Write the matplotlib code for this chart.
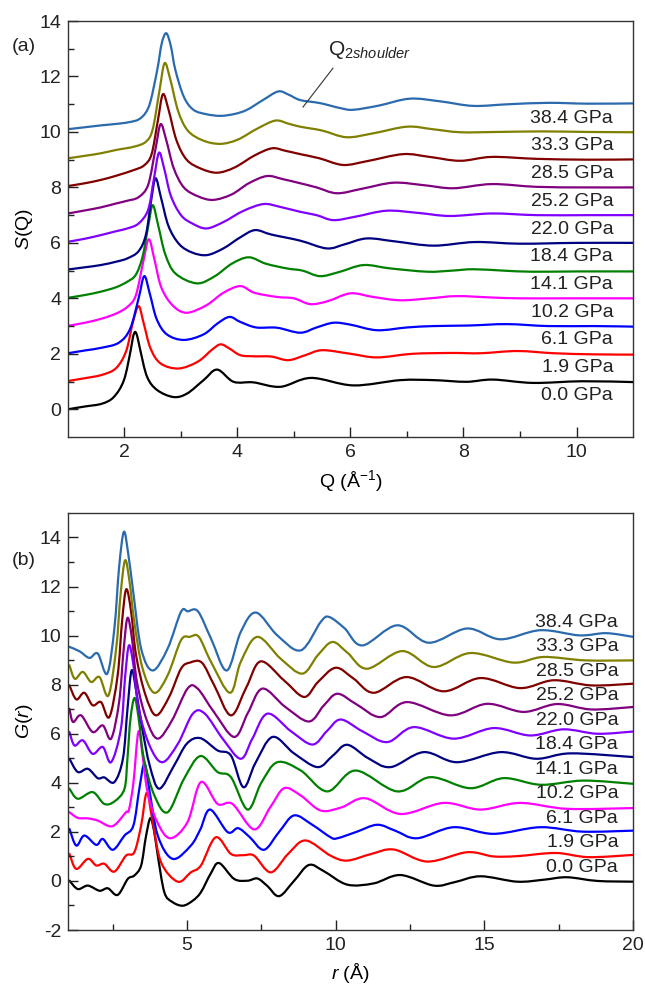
import matplotlib
matplotlib.use("Agg")
import matplotlib.pyplot as plt
from matplotlib.path import Path
from matplotlib.patches import PathPatch

plt.rcParams["font.family"] = ["Liberation Sans", "DejaVu Sans"]
plt.rcParams["mathtext.fontset"] = "custom"
plt.rcParams["mathtext.rm"] = "Liberation Sans"
plt.rcParams["mathtext.it"] = "Liberation Sans:italic"
plt.rcParams["axes.unicode_minus"] = False

pressures = ["0.0 GPa", "1.9 GPa", "6.1 GPa", "10.2 GPa", "14.1 GPa", "18.4 GPa",
             "22.0 GPa", "25.2 GPa", "28.5 GPa", "33.3 GPa", "38.4 GPa"]
colors = ["#000000", "#ff0000", "#0000ff", "#ff00ff", "#008000", "#000080",
          "#8000ff", "#800080", "#800000", "#808000", "#2a6aad"]

# ---- (a) S(Q), each curve shifted up by its index ----
q_00 = [1.0, 1.3, 1.6, 1.81, 1.99, 2.11, 2.15, 2.19, 2.23, 2.28, 2.40, 2.58, 2.87, 3.11, 3.40, 3.64,
        3.93, 4.28, 4.76, 5.3, 6.05, 6.88, 7.47, 8.05, 8.52, 9.23, 10.1, 11.0]
s_00 = [0.0, 0.1, 0.2, 0.44, 1.05, 2.13, 2.6, 2.79, 2.6, 2.13, 1.17, 0.69, 0.44, 0.57, 1.05, 1.43,
        0.99, 0.97, 0.81, 1.13, 0.86, 1.05, 1.05, 0.99, 1.07, 0.95, 1.01, 0.98]
q_19 = [1.0, 1.3, 1.6, 1.85, 2.03, 2.15, 2.25, 2.34, 2.46, 2.64, 2.96, 3.3, 3.55, 3.70, 3.85, 4.05,
        4.3, 4.6, 4.9, 5.2, 5.5, 6.0, 6.47, 7.1, 7.8, 8.3, 8.95, 9.6, 10.3, 11.0]
s_19 = [0.02, 0.12, 0.24, 0.48, 1.1, 2.15, 2.72, 2.1, 1.2, 0.65, 0.47, 0.72, 1.15, 1.34, 1.2, 0.95,
        0.91, 0.9, 0.77, 0.95, 1.13, 1.0, 0.87, 1.0, 1.03, 1.02, 1.1, 1.02, 0.98, 0.97]
q_61 = [1.0, 1.3, 1.6, 1.9, 2.1, 2.25, 2.35, 2.45, 2.57, 2.75, 3.05, 3.4, 3.65, 3.86, 4.05, 4.33,
        4.7, 5.11, 5.4, 5.70, 6.0, 6.47, 7.0, 7.47, 8.1, 8.77, 9.5, 10.3, 11.0]
s_61 = [0.02, 0.12, 0.22, 0.4, 0.9, 2.0, 2.80, 2.15, 1.25, 0.7, 0.5, 0.7, 1.1, 1.33, 1.15, 0.95,
        0.94, 0.76, 0.95, 1.12, 1.05, 0.85, 0.95, 1.0, 1.02, 1.07, 1.0, 1.0, 0.98]
q_102 = [1.0, 1.3, 1.6, 1.85, 2.05, 2.2, 2.33, 2.43, 2.53, 2.65, 2.85, 3.1, 3.45, 3.75, 4.05, 4.3,
         4.7, 5.0, 5.29, 5.6, 6.0, 6.4, 6.88, 7.4, 7.88, 8.5, 9.0, 9.8, 11.0]
s_102 = [0.01, 0.12, 0.27, 0.45, 0.69, 1.1, 2.3, 3.13, 2.4, 1.4, 0.75, 0.48, 0.75, 1.2, 1.44, 1.2,
         1.05, 1.0, 0.79, 0.9, 1.18, 1.05, 0.93, 1.0, 1.08, 1.03, 1.0, 1.0, 1.0]
q_141 = [1.0, 1.3, 1.58, 1.85, 2.05, 2.2, 2.32, 2.42, 2.50, 2.6, 2.72, 2.9, 3.28, 3.6, 3.9, 4.2,
         4.5, 4.87, 5.15, 5.46, 5.8, 6.23, 6.7, 7.36, 7.8, 8.17, 8.7, 9.2, 10.0, 11.0]
s_141 = [0.02, 0.12, 0.24, 0.4, 0.6, 0.85, 1.5, 2.6, 3.36, 2.6, 1.6, 0.9, 0.54, 0.8, 1.25, 1.48,
         1.25, 1.08, 1.0, 0.8, 0.95, 1.2, 1.08, 0.96, 1.0, 1.05, 1.0, 0.96, 0.97, 0.97]
q_184 = [1.0, 1.3, 1.58, 1.85, 2.05, 2.25, 2.38, 2.47, 2.55, 2.65, 2.78, 2.97, 3.2, 3.46, 3.75, 4.05,
         4.31, 4.6, 5.11, 5.58, 5.9, 6.29, 6.8, 7.47, 8.2, 9.0, 10.0, 11.0]
s_184 = [0.04, 0.12, 0.2, 0.32, 0.44, 0.7, 1.3, 2.5, 3.33, 2.6, 1.6, 0.95, 0.65, 0.56, 0.8, 1.2,
         1.46, 1.3, 1.08, 0.8, 0.95, 1.16, 1.05, 0.9, 1.03, 0.97, 1.0, 1.0]
q_220 = [1.0, 1.3, 1.58, 1.85, 2.05, 2.25, 2.42, 2.52, 2.61, 2.7, 2.82, 3.0, 3.2, 3.45, 3.75, 4.1,
         4.46, 4.75, 5.11, 5.4, 5.70, 6.1, 6.64, 7.2, 7.76, 8.5, 9.3, 10.2, 11.0]
s_220 = [0.04, 0.15, 0.28, 0.42, 0.52, 0.7, 1.2, 2.3, 3.25, 2.7, 1.7, 1.0, 0.7, 0.52, 0.75, 1.15,
         1.40, 1.3, 1.12, 1.0, 0.82, 0.95, 1.16, 1.08, 0.97, 1.06, 1.0, 1.0, 1.0]
q_252 = [1.0, 1.3, 1.58, 1.85, 2.05, 2.25, 2.42, 2.55, 2.64, 2.74, 2.87, 3.05, 3.3, 3.57, 3.9, 4.2,
         4.52, 4.8, 5.11, 5.4, 5.76, 6.2, 6.76, 7.3, 7.82, 8.5, 9.3, 10.2, 11.0]
s_252 = [0.06, 0.17, 0.28, 0.42, 0.52, 0.65, 1.1, 2.4, 3.28, 2.7, 1.7, 1.0, 0.68, 0.55, 0.75, 1.15,
         1.41, 1.3, 1.15, 1.0, 0.79, 0.95, 1.17, 1.08, 0.97, 1.12, 1.02, 1.0, 1.0]
q_285 = [1.0, 1.3, 1.58, 1.85, 2.17, 2.35, 2.48, 2.59, 2.68, 2.78, 2.92, 3.1, 3.35, 3.64, 3.95, 4.3,
         4.61, 4.85, 5.11, 5.45, 5.87, 6.3, 6.93, 7.4, 7.94, 8.5, 9.3, 10.2, 11.0]
s_285 = [0.05, 0.15, 0.27, 0.42, 0.63, 0.8, 1.2, 2.4, 3.36, 2.8, 1.7, 1.0, 0.68, 0.53, 0.72, 1.15,
         1.41, 1.32, 1.2, 1.05, 0.81, 0.95, 1.2, 1.1, 0.96, 1.1, 1.03, 1.0, 1.01]
q_333 = [1.0, 1.3, 1.58, 1.85, 2.17, 2.38, 2.5, 2.62, 2.71, 2.81, 2.95, 3.12, 3.38, 3.69, 4.0, 4.35,
         4.67, 4.9, 5.11, 5.5, 5.93, 6.4, 7.0, 7.45, 7.94, 8.6, 9.4, 10.2, 11.0]
s_333 = [0.05, 0.14, 0.23, 0.35, 0.47, 0.65, 1.1, 2.5, 3.48, 2.9, 1.75, 1.05, 0.7, 0.57, 0.72, 1.12,
         1.41, 1.3, 1.19, 1.05, 0.81, 0.95, 1.19, 1.1, 0.99, 1.0, 1.02, 1.0, 0.99]
q_384 = [1.0, 1.3, 1.6, 1.9, 2.1, 2.25, 2.37, 2.46, 2.58, 2.66, 2.74, 2.82, 2.90, 3.05, 3.22, 3.45, 3.70,
         3.95, 4.17, 4.45, 4.72, 4.9, 5.11, 5.46, 5.82, 6.05, 6.5, 7.05, 7.6, 8.17, 8.8, 9.5, 10.2, 11.0]
s_384 = [0.1, 0.17, 0.24, 0.3, 0.36, 0.45, 0.68, 1.1, 2.24, 3.2, 3.56, 3.1, 2.24, 1.27, 0.8, 0.64, 0.58,
         0.65, 0.8, 1.15, 1.46, 1.35, 1.15, 1.04, 0.86, 0.8, 0.95, 1.2, 1.1, 0.94, 1.0, 1.05, 1.02, 1.03]

sq_q = [q_00, q_19, q_61, q_102, q_141, q_184, q_220, q_252, q_285, q_333, q_384]
sq_s = [s_00, s_19, s_61, s_102, s_141, s_184, s_220, s_252, s_285, s_333, s_384]

# ---- (b) G(r), each curve shifted up by its index ----
r_00 = [1.05, 1.33, 1.67, 2.06, 2.34, 2.67, 3.01, 3.23, 3.46, 3.62, 3.77, 3.9, 4.02, 4.24, 4.5, 4.86,
        5.2, 5.47, 5.8, 6.08, 6.59, 7.04, 7.37, 7.7, 8.10, 8.6, 9.1, 9.6, 10.39, 11.28, 12.18, 13.3,
        14.0, 14.87, 16.1, 17.0, 17.78, 18.8, 20.0]
g_00 = [0.01, -0.33, -0.19, -0.4, -0.3, -0.57, 0.08, 0.22, 0.63, 1.8, 2.56, 2.0, 1.03, -0.46, -0.85, -1.01,
        -0.8, -0.46, 0.3, 0.73, 0.08, 0.01, 0.1, -0.2, -0.62, 0.0, 0.65, 0.4, -0.15, -0.1, 0.24, -0.19,
        -0.05, 0.19, -0.03, 0.05, 0.15, 0.0, -0.03]
r_19 = [1.05, 1.28, 1.67, 1.95, 2.22, 2.56, 2.95, 3.23, 3.46, 3.65, 3.85, 4.13, 4.69, 5.13, 5.47, 5.97,
        6.48, 6.9, 7.26, 7.82, 8.4, 8.99, 9.83, 10.39, 11.2, 11.96, 13.08, 14.42, 15.3, 16.1, 17.4, 18.5, 20.0]
g_19 = [0.10, -0.51, -0.1, -0.37, -0.3, -0.62, 0.03, 0.17, 1.26, 2.59, 1.4, -0.24, -1.03, -0.65, -0.37, 0.78,
        0.1, 0.05, 0.03, -0.65, 0.1, 0.65, 0.03, -0.17, 0.1, 0.28, -0.21, 0.17, 0.0, 0.01, 0.14, -0.03, 0.06]
r_61 = [1.05, 1.28, 1.55, 1.95, 2.17, 2.51, 2.9, 3.2, 3.4, 3.57, 3.73, 4.02, 4.52, 5.13, 5.45, 5.78,
        6.37, 6.72, 7.1, 7.59, 8.1, 8.6, 9.2, 9.83, 10.06, 10.7, 11.4, 12.0, 12.74, 13.97, 15.3, 16.88, 18.3, 20.0]
g_61 = [0.12, -0.56, -0.15, -0.53, -0.29, -0.73, -0.15, 0.26, 1.76, 2.78, 1.76, -0.15, -1.1, -0.56, 0.1, 0.91,
        -0.01, 0.15, -0.2, -0.73, 0.0, 0.67, 0.3, -0.22, -0.26, 0.0, 0.29, 0.05, -0.26, 0.19, -0.08, 0.19, 0.01, 0.05]
r_102 = [1.05, 1.33, 1.67, 2.0, 2.39, 2.62, 2.95, 3.05, 3.2, 3.37, 3.52, 3.68, 4.0, 4.44, 5.02, 5.47,
         6.03, 6.53, 7.26, 7.8, 8.27, 8.83, 9.5, 10.2, 11.0, 12.18, 13.63, 14.87, 16.2, 17.78, 20.0]
g_102 = [-0.2, -0.43, -0.45, -0.54, -0.77, -0.67, -0.2, -0.1, 1.0, 3.09, 2.0, 0.6, -0.6, -1.26, -0.6, 1.03,
         0.14, 0.14, -0.9, 0.0, 0.78, 0.48, -0.13, 0.0, 0.37, -0.27, 0.18, -0.09, 0.18, -0.06, -0.03]
r_141 = [1.05, 1.33, 1.83, 2.22, 2.56, 2.9, 3.0, 3.1, 3.24, 3.38, 3.55, 3.9, 4.35, 4.9, 5.45, 6.03,
         6.48, 7.04, 7.5, 8.04, 8.83, 9.72, 10.67, 12.07, 13.19, 14.53, 15.65, 16.9, 18.33, 20.0]
g_141 = [-0.24, -0.65, -0.38, -0.86, -0.76, -0.24, 1.0, 2.6, 3.46, 2.6, 1.0, -0.5, -1.2, 0.16, 1.09, 0.44,
         0.23, -1.09, 0.0, 0.84, 0.5, -0.35, 0.5, -0.35, 0.23, -0.22, 0.19, -0.08, 0.09, -0.04]
r_184 = [1.05, 1.33, 1.67, 2.0, 2.22, 2.56, 2.85, 3.0, 3.14, 3.3, 3.5, 3.75, 4.07, 4.57, 5.0, 5.45,
         6.03, 6.48, 6.9, 7.3, 7.88, 8.6, 9.39, 9.9, 10.39, 11.1, 11.85, 12.96, 14.08, 15.54, 16.75, 17.9, 20.0]
g_184 = [-0.02, -0.56, -0.43, -0.81, -0.78, -0.97, 0.0, 2.0, 3.58, 2.7, 1.2, -0.3, -1.24, -0.29, 0.6, 0.82,
         0.32, 0.11, -1.18, -0.2, 0.87, 0.2, -0.36, 0.1, 0.55, 0.0, -0.36, 0.25, -0.16, 0.25, -0.02, 0.2, 0.05]
r_220 = [1.05, 1.22, 1.5, 1.83, 2.17, 2.45, 2.78, 2.92, 3.05, 3.2, 3.38, 3.75, 4.18, 4.7, 5.2, 5.6,
         6.2, 6.81, 7.2, 7.71, 8.5, 9.22, 9.7, 10.17, 10.9, 11.74, 12.63, 13.97, 15.31, 16.54, 17.66, 18.8, 20.0]
g_220 = [0.07, -0.48, -0.27, -0.82, -0.54, -1.16, 0.2, 2.3, 3.6, 2.8, 1.0, -0.5, -1.16, -0.4, 0.82, 0.82,
         -0.2, -1.02, -0.2, 0.82, 0.1, -0.44, 0.1, 0.58, 0.1, -0.34, 0.27, -0.2, 0.23, -0.07, 0.18, 0.0, 0.09]
r_252 = [1.05, 1.17, 1.44, 1.83, 2.17, 2.45, 2.72, 2.87, 3.0, 3.15, 3.32, 3.65, 4.02, 4.5, 5.02, 5.36,
         5.9, 6.59, 7.05, 7.54, 8.3, 9.1, 9.6, 10.06, 10.7, 11.51, 12.4, 13.86, 15.09, 16.32, 17.44, 18.6, 20.0]
g_252 = [0.02, -0.52, -0.25, -0.93, -0.66, -1.2, 0.3, 2.4, 3.72, 2.9, 1.1, -0.45, -1.2, -0.45, 0.84, 0.84,
         -0.1, -1.13, -0.15, 0.84, 0.1, -0.5, 0.15, 0.63, 0.2, -0.32, 0.29, -0.25, 0.22, -0.11, 0.21, -0.01, 0.09]
r_285 = [1.05, 1.28, 1.55, 1.83, 2.11, 2.39, 2.67, 2.82, 2.96, 3.12, 3.29, 3.6, 3.96, 4.4, 4.8, 5.1,
         5.5, 5.92, 6.48, 7.0, 7.48, 8.26, 8.94, 9.4, 10.0, 10.6, 11.29, 12.38, 13.63, 14.87, 16.2, 17.33, 18.6, 20.0]
g_285 = [-0.03, -0.6, -0.33, -0.84, -0.71, -1.32, 0.38, 2.6, 3.89, 3.0, 1.2, -0.4, -1.25, -0.5, 0.65, 0.9,
         0.9, -0.03, -1.25, -0.1, 0.95, 0.18, -0.5, 0.1, 0.69, 0.25, -0.33, 0.31, -0.27, 0.27, -0.14, 0.18, -0.03, 0.04]
r_333 = [1.05, 1.23, 1.5, 1.78, 2.06, 2.36, 2.62, 2.77, 2.92, 3.07, 3.23, 3.5, 3.9, 4.35, 4.8, 5.1,
         5.4, 5.81, 6.45, 6.81, 7.37, 8.15, 8.88, 9.4, 9.89, 10.4, 11.06, 12.24, 13.3, 14.53, 15.98, 16.99, 18.4, 20.0]
g_333 = [-0.21, -0.76, -0.48, -0.89, -0.69, -1.44, 0.47, 2.7, 4.07, 3.2, 1.56, -0.3, -1.33, -0.62, 0.81, 0.95,
         0.95, -0.07, -1.33, -0.07, 0.95, 0.06, -0.55, 0.2, 0.74, 0.3, -0.35, 0.37, -0.28, 0.29, -0.1, 0.13, -0.01, -0.01]
r_384 = [1.05, 1.39, 1.72, 2.0, 2.32, 2.56, 2.72, 2.88, 3.03, 3.18, 3.46, 3.85, 4.35, 4.8, 5.03, 5.37,
         5.81, 6.34, 6.81, 7.32, 8.04, 8.83, 9.5, 9.78, 10.3, 10.9, 12.07, 13.13, 14.42, 15.54, 16.88, 18.2, 19.1, 20.0]
g_384 = [-0.46, -0.64, -0.91, -0.73, -1.55, 0.29, 2.8, 4.23, 3.3, 1.92, -0.53, -1.42, -0.53, 0.97, 0.99, 0.99,
         -0.12, -1.42, 0.15, 0.94, 0.01, -0.6, 0.56, 0.76, 0.3, -0.4, 0.42, -0.29, 0.29, -0.15, 0.22, 0.01, 0.1, -0.05]

gr_r = [r_00, r_19, r_61, r_102, r_141, r_184, r_220, r_252, r_285, r_333, r_384]
gr_g = [g_00, g_19, g_61, g_102, g_141, g_184, g_220, g_252, g_285, g_333, g_384]


def smooth_line(ax, xs, ys, color):
    # draw the read points as one smooth curve (Bezier segments through every point)
    pts = list(zip(xs, ys))
    verts = [pts[0]]
    codes = [Path.MOVETO]
    n = len(pts)
    for k in range(n - 1):
        p0 = pts[k - 1] if k > 0 else pts[k]
        p1 = pts[k]
        p2 = pts[k + 1]
        p3 = pts[k + 2] if k + 2 < n else pts[k + 1]
        c1 = (p1[0] + (p2[0] - p0[0]) / 6, p1[1] + (p2[1] - p0[1]) / 6)
        c2 = (p2[0] - (p3[0] - p1[0]) / 6, p2[1] - (p3[1] - p1[1]) / 6)
        verts += [c1, c2, p2]
        codes += [Path.CURVE4] * 3
    ax.add_patch(PathPatch(Path(verts, codes), fill=False, edgecolor=color, lw=1.6,
                           capstyle="round", joinstyle="round"))


fig = plt.figure(figsize=(6.45, 9.97), dpi=100)
ax1 = fig.add_axes([0.1054, 0.5617, 0.876, 0.4172])
ax2 = fig.add_axes([0.1054, 0.0672, 0.876, 0.4183])

for i in range(len(pressures)):
    smooth_line(ax1, sq_q[i], [v + i for v in sq_s[i]], colors[i])
    ax1.text(10.65, i + 0.5, pressures[i], ha="right", va="center", fontsize=14, color="#222222")
    smooth_line(ax2, gr_r[i], [v + i for v in gr_g[i]], colors[i])
    ax2.text(19.5, i + 0.55, pressures[i], ha="right", va="center", fontsize=14, color="#222222")

ax1.set_xlim(1, 11)
ax1.set_ylim(-1, 14)
ax1.set_xticks([2, 4, 6, 8, 10])
ax1.set_xticks([3, 5, 7, 9], minor=True)
ax1.set_yticks([0, 2, 4, 6, 8, 10, 12, 14])
ax1.set_yticks([1, 3, 5, 7, 9, 11, 13], minor=True)
ax1.set_xlabel("Q (Å$^{-1}$)", fontsize=14, labelpad=5)
ax1.set_ylabel("$S$(Q)", fontsize=14, labelpad=3)

ax2.set_xlim(1, 20)
ax2.set_ylim(-2, 15)
ax2.set_xticks([5, 10, 15, 20])
ax2.set_xticks([2.5, 7.5, 12.5, 17.5], minor=True)
ax2.set_yticks([-2, 0, 2, 4, 6, 8, 10, 12, 14])
ax2.set_yticks([-1, 1, 3, 5, 7, 9, 11, 13], minor=True)
ax2.set_xlabel("$r$ (Å)", fontsize=14, labelpad=5)
ax2.set_ylabel("$G$($r$)", fontsize=14, labelpad=3)

for ax in (ax1, ax2):
    ax.tick_params(which="both", direction="in", top=False, right=False, labelsize=14,
                   colors="#222222", width=1)
    ax.tick_params(which="major", length=7, pad=5)
    ax.tick_params(which="minor", length=4)
    for sp in ax.spines.values():
        sp.set_color("#333333")
        sp.set_linewidth(1.0)

ax1.text(5.6, 12.95, "Q$_{\\mathit{2shoulder}}$", fontsize=15, ha="left", va="center", color="#222222")
ax1.plot([5.69, 5.16], [12.3, 10.9], color="#333333", lw=0.8)

fig.text(0.018, 0.953, "(a)", fontsize=14, va="center", color="#222222")
fig.text(0.018, 0.438, "(b)", fontsize=14, va="center", color="#222222")

fig.savefig("out.png", dpi=100)
